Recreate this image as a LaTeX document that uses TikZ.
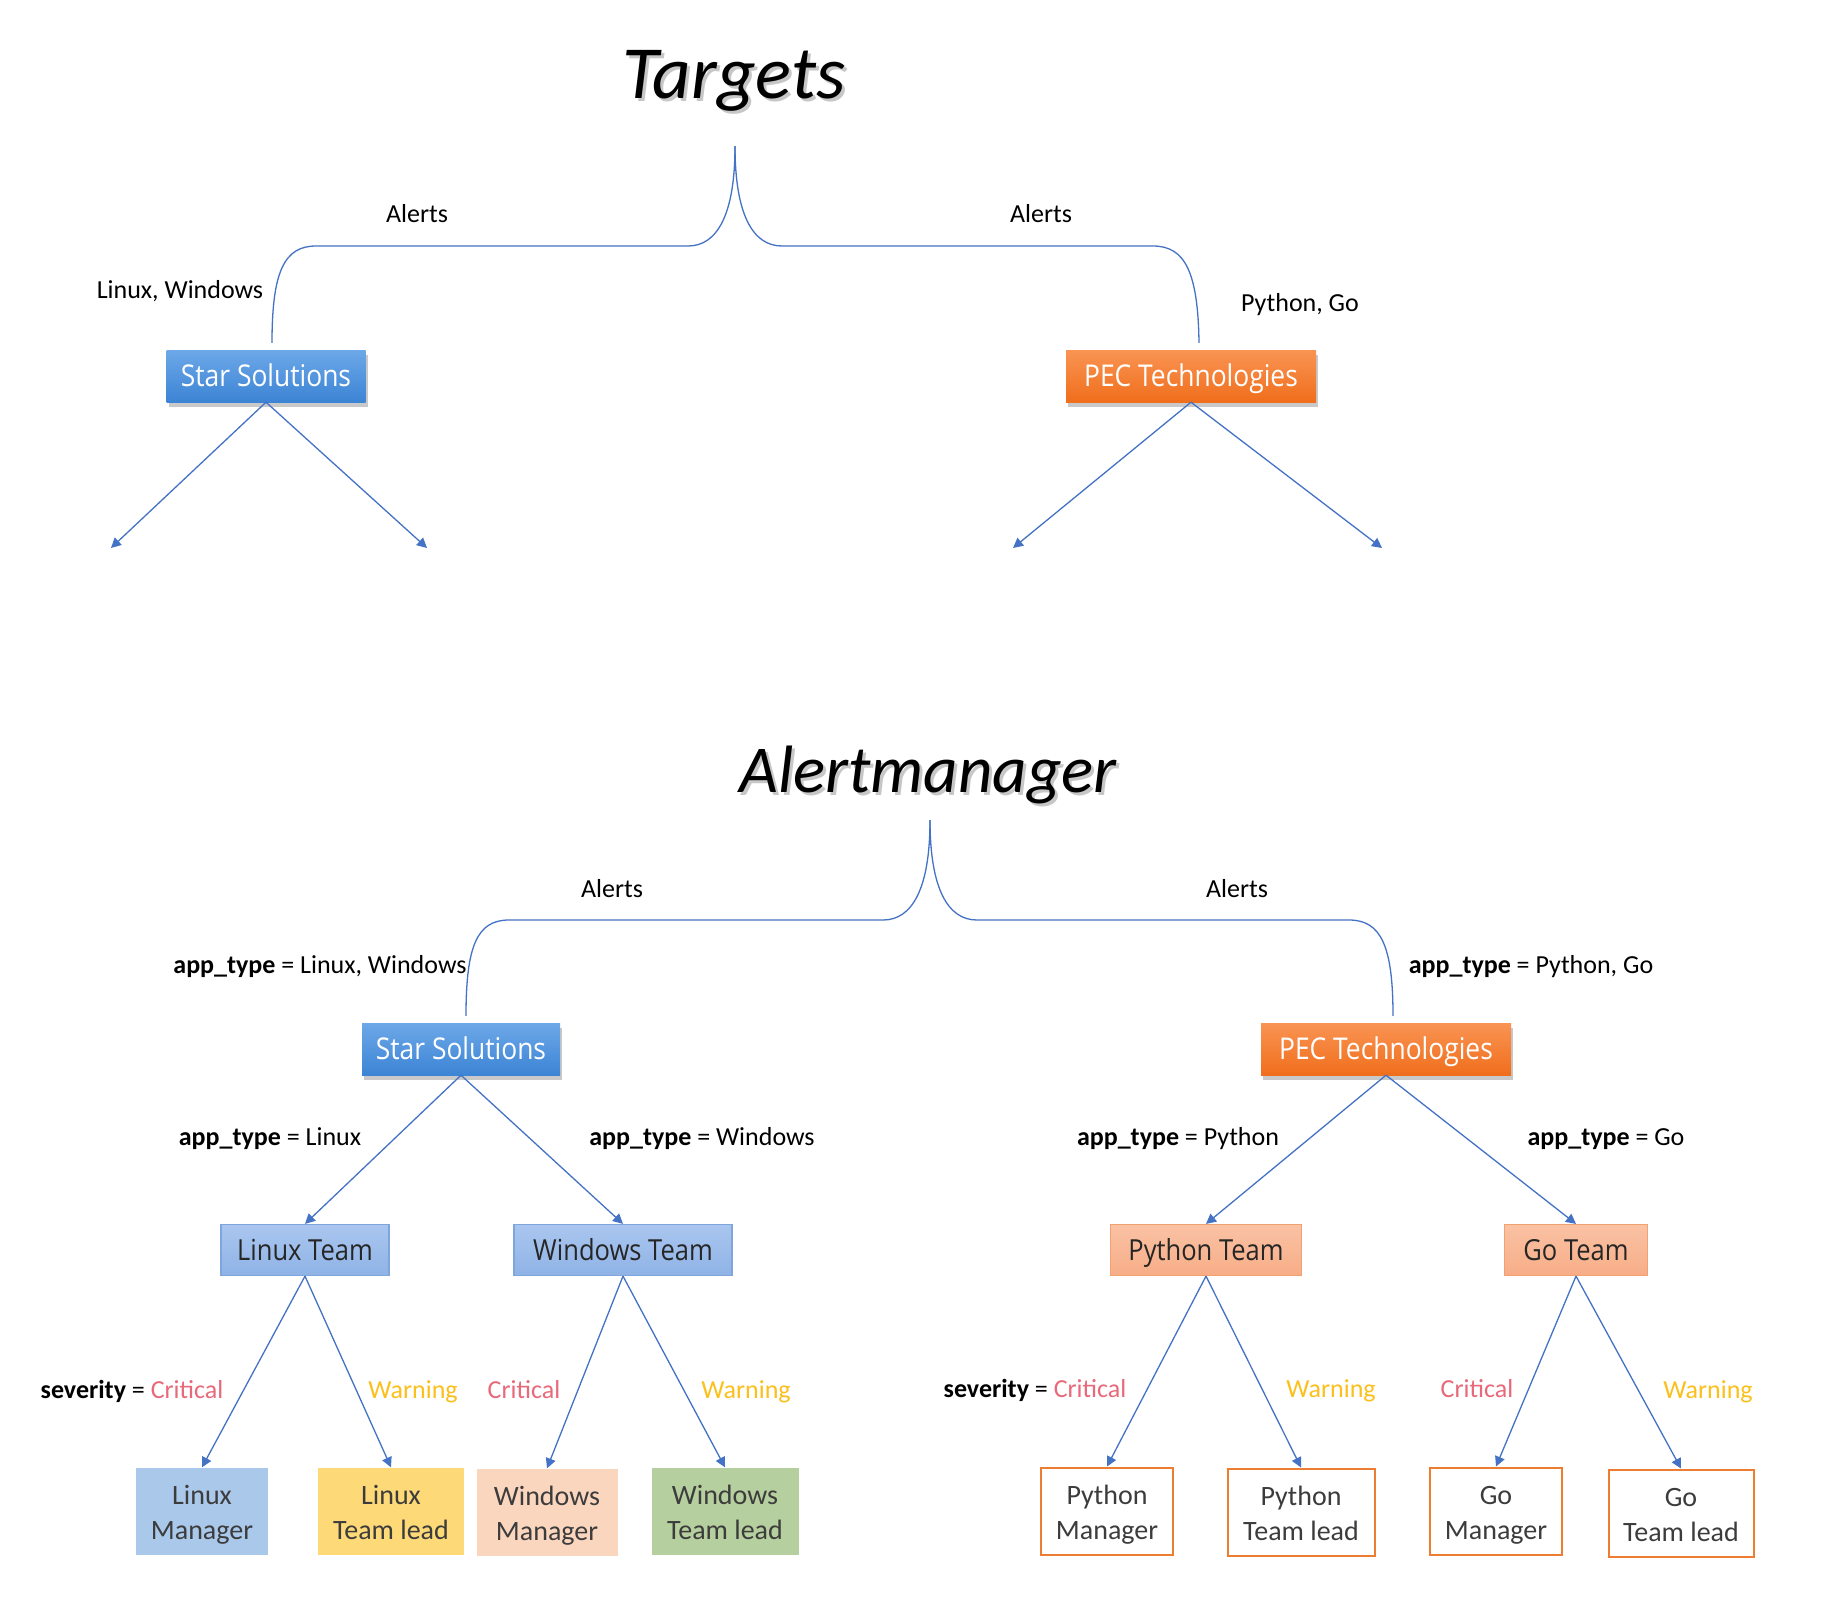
\documentclass[tikz,border=0pt]{standalone}
\usepackage{fontspec}
\setmainfont{Carlito}
\newfontfamily\boxfont{Open Sans}[FakeStretch=0.88]
\usetikzlibrary{arrows.meta,shadows,calc}
\newcommand\lfs{\rule[-7pt]{0pt}{35pt}}
\definecolor{lineblue}{HTML}{4472C4}
\definecolor{starTop}{HTML}{6DA8E8}
\definecolor{starBot}{HTML}{3C84D5}
\definecolor{pecTop}{HTML}{F99453}
\definecolor{pecBot}{HTML}{F06E1C}
\definecolor{teamBlueTop}{HTML}{AAC6EF}
\definecolor{teamBlueBot}{HTML}{8FB3E6}
\definecolor{teamBlueBd}{HTML}{7FA6DC}
\definecolor{teamOrTop}{HTML}{FAC2A4}
\definecolor{teamOrBot}{HTML}{F7AD87}
\definecolor{teamOrBd}{HTML}{F3A16E}
\definecolor{leafBlue}{HTML}{A9C8EA}
\definecolor{leafYellow}{HTML}{FDD977}
\definecolor{leafPeach}{HTML}{FBD6BF}
\definecolor{leafGreen}{HTML}{B6CF9E}
\definecolor{leafOrBd}{HTML}{ED7D31}
\definecolor{critRed}{HTML}{E8697A}
\definecolor{warnAmber}{HTML}{FBC01C}
\definecolor{textDark}{HTML}{262626}
\tikzset{
  conn/.style={draw=lineblue, line width=1.3pt},
  arr/.style={conn, -{Triangle[width=10pt,length=10pt]}},
  lbl/.style={font=\fontsize{26}{31}\selectfont, anchor=base, inner sep=0pt, text=black},
  titletext/.style={font=\fontsize{75}{80}\selectfont\itshape, anchor=base, inner sep=0pt, text=black},
  topbox/.style={font=\boxfont\fontsize{30}{34}\selectfont, text=white, minimum height=52pt, inner sep=0pt,
    text height=24.5pt, text depth=3pt,
    drop shadow={shadow xshift=2pt, shadow yshift=-5pt, opacity=0.35, fill=black!60}},
  starbox/.style={topbox, top color=starTop, bottom color=starBot},
  pecbox/.style={topbox, top color=pecTop, bottom color=pecBot},
  teambox/.style={font=\boxfont\fontsize{29}{33}\selectfont, text=textDark, minimum height=51pt, inner sep=0pt,
    text height=23.7pt, text depth=3pt, line width=1.2pt},
  tblue/.style={teambox, top color=teamBlueTop, bottom color=teamBlueBot, draw=teamBlueBd},
  torange/.style={teambox, top color=teamOrTop, bottom color=teamOrBot, draw=teamOrBd},
  leaf/.style={font=\fontsize{28}{35}\selectfont, text=textDark!90, align=center, minimum height=87pt, inner sep=0pt},
  leafo/.style={leaf, draw=leafOrBd, line width=2pt, fill=white},
}
\begin{document}
\begin{tikzpicture}[x=1pt,y=-1pt]
\useasboundingbox[fill=white] (0,0) rectangle (1836,1612);

% ---------- Titles ----------
\node[titletext, text=black!22] at (737,101) {Targets};
\node[titletext] (t1) at (734,98) {Targets};
\node[titletext, font=\fontsize{67}{75}\selectfont\itshape, text=black!22] at (931,795) {Alertmanager};
\node[titletext, font=\fontsize{67}{75}\selectfont\itshape] (t2) at (928,792) {Alertmanager};

% ---------- Top (Targets) ----------
\node[starbox, minimum width=199pt] (s1) at (266,376) {Star Solutions};
\node[pecbox, minimum width=250pt] (p1) at (1191,376) {PEC Technologies};

\coordinate (a1) at (735,146);
\draw[conn] (a1) .. controls (735,215) and (717,246) .. (688,246) -- (316,246)
  .. controls (284,246) and (272,272) .. ($(s1.north)+(6,-7)$);
\draw[conn] (a1) .. controls (735,215) and (753,246) .. (782,246) -- (1153,246)
  .. controls (1185,246) and (1198,272) .. ($(p1.north)+(8,-7)$);

\node[lbl] (al1) at (417,222) {Alerts};
\node[lbl] (al2) at (1041,222) {Alerts};
\node[lbl] (lw1) at (180,298) {Linux, Windows};
\node[lbl] (pg1) at (1300,311) {Python, Go};

\coordinate (e1) at (111,548);
\coordinate (e2) at (427,548);
\coordinate (e3) at (1013,548);
\coordinate (e4) at (1382,548);
\draw[arr] (s1.south) -- (e1);
\draw[arr] (s1.south) -- (e2);
\draw[arr] (p1.south) -- (e3);
\draw[arr] (p1.south) -- (e4);

% ---------- Bottom (Alertmanager) ----------
\node[starbox, minimum width=198pt] (s2) at (461,1049) {Star Solutions};
\node[pecbox, minimum width=250pt] (p2) at (1386,1049) {PEC Technologies};

\coordinate (a2) at (930,820);
\draw[conn] (a2) .. controls (930,889) and (912,920) .. (883,920) -- (509,920)
  .. controls (477,920) and (466,946) .. ($(s2.north)+(5,-7)$);
\draw[conn] (a2) .. controls (930,889) and (948,920) .. (977,920) -- (1349,920)
  .. controls (1381,920) and (1393,946) .. ($(p2.north)+(7,-7)$);

\node[lbl] (al3) at (612,897) {Alerts};
\node[lbl] (al4) at (1237,897) {Alerts};
\node[lbl] (at1) at (320,973) {\textbf{app\_type} = Linux, Windows};
\node[lbl] (at2) at (1531,973) {\textbf{app\_type} = Python, Go};

\node[tblue, minimum width=168pt] (lt) at (305,1250) {Linux Team};
\node[tblue, minimum width=218pt] (wt) at (623,1250) {Windows Team};
\node[torange, minimum width=191pt] (pt) at (1206,1250) {Python Team};
\node[torange, minimum width=143pt] (gt) at (1576,1250) {Go Team};

\draw[arr] (s2.south) -- (lt.north);
\draw[arr] (s2.south) -- (wt.north);
\draw[arr] (p2.south) -- (pt.north);
\draw[arr] (p2.south) -- (gt.north);

\node[lbl] (at3) at (270,1145) {\textbf{app\_type} = Linux};
\node[lbl] (at4) at (702,1145) {\textbf{app\_type} = Windows};
\node[lbl] (at5) at (1178,1145) {\textbf{app\_type} = Python};
\node[lbl] (at6) at (1606,1145) {\textbf{app\_type} = Go};

% leaves
\node[leaf, fill=leafBlue, minimum width=132pt] (lm) at (202,1511) {Linux\lfs\\Manager\lfs};
\node[leaf, fill=leafYellow, minimum width=146pt] (ltl) at (391,1511) {Linux\lfs\\Team lead\lfs};
\node[leaf, fill=leafPeach, minimum width=141pt] (wm) at (547,1512) {Windows\lfs\\Manager\lfs};
\node[leaf, fill=leafGreen, minimum width=147pt] (wtl) at (725,1511) {Windows\lfs\\Team lead\lfs};
\node[leafo, minimum width=132pt] (pm) at (1107,1511) {Python\lfs\\Manager\lfs};
\node[leafo, minimum width=147pt] (ptl) at (1301,1512) {Python\lfs\\Team lead\lfs};
\node[leafo, minimum width=132pt] (gm) at (1496,1511) {Go\lfs\\Manager\lfs};
\node[leafo, minimum width=145pt] (gtl) at (1681,1513) {Go\lfs\\Team lead\lfs};

\draw[arr] (lt.south) -- (lm.north);
\draw[arr] (lt.south) -- (ltl.north);
\draw[arr] (wt.south) -- (wm.north);
\draw[arr] (wt.south) -- (wtl.north);
\draw[arr] (pt.south) -- (pm.north);
\draw[arr] (pt.south) -- (ptl.north);
\draw[arr] (gt.south) -- (gm.north);
\draw[arr] (gt.south) -- (gtl.north);

\node[lbl] (sv1) at (132,1398) {\textbf{severity} = \textcolor{critRed}{Critical}};
\node[lbl, text=warnAmber] (w1) at (413,1398) {Warning};
\node[lbl, text=critRed] (c1) at (524,1398) {Critical};
\node[lbl, text=warnAmber] (w2) at (746,1398) {Warning};
\node[lbl] (sv2) at (1035,1397) {\textbf{severity} = \textcolor{critRed}{Critical}};
\node[lbl, text=warnAmber] (w3) at (1331,1397) {Warning};
\node[lbl, text=critRed] (c2) at (1477,1397) {Critical};
\node[lbl, text=warnAmber] (w4) at (1708,1398) {Warning};
\end{tikzpicture}
\end{document}
